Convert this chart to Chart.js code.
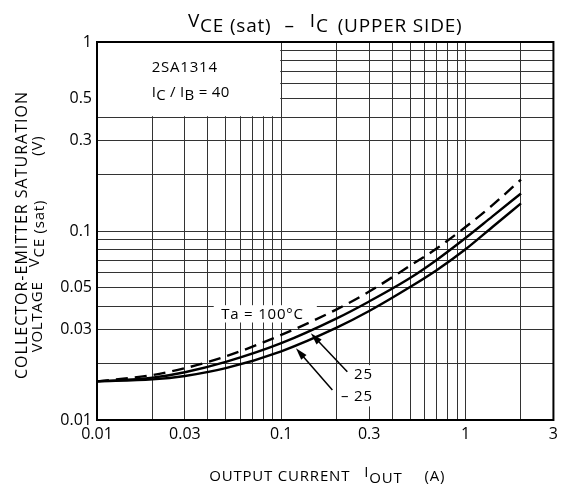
<!DOCTYPE html>
<html>
<head>
<meta charset="utf-8">
<script src="https://cdn.jsdelivr.net/npm/chart.js@4.4.1/dist/chart.umd.min.js"></script>
<style>
  html, body { margin: 0; padding: 0; background: #fff; }
  canvas { display: block; }
</style>
</head>
<body>
<canvas id="chart" width="563" height="486"></canvas>
<script>
// output current (A) and VCE(sat) (V)
const current = [0.01, 0.02, 0.03, 0.05, 0.1, 0.2, 0.3, 0.5, 0.7, 1.0, 1.4, 2.0];
const vce100 = [0.0160, 0.0173, 0.0188, 0.0217, 0.0282, 0.0385, 0.0478, 0.0655, 0.0810, 0.105, 0.137, 0.187];
const vce25 = [0.0160, 0.01675, 0.0179, 0.0203, 0.0255, 0.0345, 0.0424, 0.0564, 0.0705, 0.0918, 0.1195, 0.158];
const vceM25 = [0.0160, 0.0164, 0.0171, 0.0188, 0.0231, 0.0308, 0.0377, 0.0505, 0.0622, 0.0800, 0.1050, 0.140];

const xGrid = [0.01, 0.02, 0.03, 0.04, 0.05, 0.06, 0.07, 0.08, 0.09, 0.1, 0.2, 0.3, 0.4, 0.5, 0.6, 0.7, 0.8, 0.9, 1, 2, 3];
const yGrid = [0.01, 0.02, 0.03, 0.04, 0.05, 0.06, 0.07, 0.08, 0.09, 0.1, 0.2, 0.3, 0.4, 0.5, 0.6, 0.7, 0.8, 0.9, 1];
const xTickLabels = [0.01, 0.03, 0.1, 0.3, 1, 3];
const yTickLabels = [0.01, 0.03, 0.05, 0.1, 0.3, 0.5, 1];

const FONT = '"Open Sans", "Noto Sans", sans-serif';

function spacedWidth(ctx, t, ls) {
  let w = 0;
  for (const ch of t) w += ctx.measureText(ch).width + ls;
  return w;
}

// draws a run of text pieces (for subscripts) letter by letter; dy shifts a piece down
function drawParts(ctx, parts, x, y, size, align, ls = 0) {
  ctx.font = `${size}px ${FONT}`;
  ctx.textAlign = 'left';
  ctx.textBaseline = 'alphabetic';
  let total = 0;
  parts.forEach(p => { total += (p.gap || 0) + spacedWidth(ctx, p.t, ls); });
  let cx = align === 'center' ? x - total / 2 : (align === 'right' ? x - total : x);
  parts.forEach(p => {
    cx += p.gap || 0;
    for (const ch of p.t) {
      ctx.fillText(ch, cx, y + (p.dy || 0));
      cx += ctx.measureText(ch).width + ls;
    }
  });
}

function whiteBox(ctx, x0, y0, x1, y1) {
  ctx.fillStyle = '#fff';
  ctx.fillRect(x0, y0, x1 - x0, y1 - y0);
}

function arrow(ctx, x0, y0, x1, y1) {
  const ang = Math.atan2(y1 - y0, x1 - x0);
  const len = 12, half = 3.5;
  ctx.strokeStyle = '#000';
  ctx.lineWidth = 1.5;
  ctx.beginPath();
  ctx.moveTo(x0, y0);
  ctx.lineTo(x1 - Math.cos(ang) * len * 0.8, y1 - Math.sin(ang) * len * 0.8);
  ctx.stroke();
  ctx.fillStyle = '#000';
  ctx.beginPath();
  ctx.moveTo(x1, y1);
  ctx.lineTo(x1 - Math.cos(ang) * len + Math.sin(ang) * half, y1 - Math.sin(ang) * len - Math.cos(ang) * half);
  ctx.lineTo(x1 - Math.cos(ang) * len - Math.sin(ang) * half, y1 - Math.sin(ang) * len + Math.cos(ang) * half);
  ctx.closePath();
  ctx.fill();
}

const decor = {
  id: 'decor',
  beforeDatasetsDraw(chart) {
    const { ctx, scales: { x, y } } = chart;
    ctx.save();
    // blank panel holding the part number
    whiteBox(ctx, x.getPixelForValue(0.01) + 1, y.getPixelForValue(1) + 1,
      x.getPixelForValue(0.1) - 1, y.getPixelForValue(0.4) - 1);
    // gaps in the grid behind the curve labels
    whiteBox(ctx, x.getPixelForValue(0.043), y.getPixelForValue(0.0405),
      x.getPixelForValue(0.156), y.getPixelForValue(0.0328));
    whiteBox(ctx, x.getPixelForValue(0.205), y.getPixelForValue(0.0195),
      x.getPixelForValue(0.33), y.getPixelForValue(0.0118));
    ctx.restore();
  },
  afterDraw(chart) {
    const { ctx, chartArea: a, scales: { x, y } } = chart;
    ctx.save();
    ctx.fillStyle = '#000';

    // frame
    ctx.strokeStyle = '#000';
    ctx.lineWidth = 2;
    ctx.strokeRect(a.left, a.top, a.right - a.left, a.bottom - a.top);

    // title
    ctx.fillStyle = '#000';
    drawParts(ctx, [
      { t: 'V', dy: -5 }, { t: 'CE (sat)' }, { t: '–', gap: 13 }, { t: 'I', gap: 15, dy: -5 },
      { t: 'C' }, { t: '(UPPER SIDE)', gap: 9 }
    ], (a.left + a.right) / 2, 32, 19, 'center', 0.8);

    // panel text
    const px = x.getPixelForValue(0.0198);
    drawParts(ctx, [{ t: '2SA1314' }], px, y.getPixelForValue(0.74) + 5.5, 15, 'left', 0.8);
    drawParts(ctx, [
      { t: 'I', dy: -3 }, { t: 'C' }, { t: ' / ', dy: -3 }, { t: 'I', dy: -3 }, { t: 'B' }, { t: ' = 40', dy: -3 }
    ], px, y.getPixelForValue(0.546) + 8, 15, 'left', 0.3);

    // curve labels
    drawParts(ctx, [{ t: 'Ta = 100°C' }], x.getPixelForValue(0.0472), y.getPixelForValue(0.0367) + 5.5, 15, 'left', 0.8);
    drawParts(ctx, [{ t: '25' }], x.getPixelForValue(0.314), y.getPixelForValue(0.0177) + 5.5, 15, 'right', 0.8);
    drawParts(ctx, [{ t: '– 25' }], x.getPixelForValue(0.314), y.getPixelForValue(0.01356) + 5.5, 15, 'right', 0.8);

    arrow(ctx, x.getPixelForValue(0.2283), y.getPixelForValue(0.0180),
      x.getPixelForValue(0.1447), y.getPixelForValue(0.02875));
    arrow(ctx, x.getPixelForValue(0.1894), y.getPixelForValue(0.0144),
      x.getPixelForValue(0.1202), y.getPixelForValue(0.02395));

    // x axis title
    ctx.fillStyle = '#000';
    drawParts(ctx, [
      { t: 'OUTPUT CURRENT' }, { t: 'I', gap: 14, dy: -4 }, { t: 'OUT', dy: 2 }, { t: '(A)', gap: 22 }
    ], (a.left + a.right) / 2 + 2, 481, 15, 'center', 0.8);

    // y axis title, two rotated lines
    ctx.save();
    ctx.translate(27, 235);
    ctx.rotate(-Math.PI / 2);
    drawParts(ctx, [{ t: 'COLLECTOR-EMITTER SATURATION' }], 0, 0, 16, 'center', 1.0);
    ctx.restore();
    ctx.save();
    ctx.translate(42, 244);
    ctx.rotate(-Math.PI / 2);
    drawParts(ctx, [
      { t: 'VOLTAGE' }, { t: 'V', gap: 14, dy: -3 }, { t: 'CE (sat)', dy: 2 }, { t: '(V)', gap: 44 }
    ], 0, 0, 15, 'center', 0.8);
    ctx.restore();

    ctx.restore();
  }
};

const toPoints = vals => current.map((c, i) => ({ x: c, y: vals[i] }));

new Chart(document.getElementById('chart'), {
  type: 'line',
  data: {
    datasets: [
      { label: 'Ta = 100°C', data: toPoints(vce100), borderDash: [12, 7] },
      { label: '25', data: toPoints(vce25) },
      { label: '-25', data: toPoints(vceM25) }
    ].map(d => Object.assign({
      borderColor: '#000', borderWidth: 2.4, pointRadius: 0, cubicInterpolationMode: 'monotone', fill: false
    }, d))
  },
  options: {
    responsive: false,
    animation: false,
    events: [],
    layout: { padding: { top: 42, right: 8, left: 0, bottom: 0 } },
    plugins: { legend: { display: false }, tooltip: { enabled: false } },
    scales: {
      x: {
        type: 'logarithmic', min: 0.01, max: 3,
        afterBuildTicks: s => { s.ticks = xGrid.map(v => ({ value: v })); },
        afterFit: s => { s.height = 66; },
        grid: { color: '#333', lineWidth: 1, drawTicks: false },
        border: { display: false },
        ticks: {
          autoSkip: false, maxRotation: 0, padding: 5, color: '#000',
          font: { family: FONT, size: 16 },
          callback: v => xTickLabels.includes(v) ? String(v) : ''
        }
      },
      y: {
        type: 'logarithmic', min: 0.01, max: 1,
        afterBuildTicks: s => { s.ticks = yGrid.map(v => ({ value: v })); },
        afterFit: s => { s.width = 97; },
        grid: { color: '#333', lineWidth: 1, drawTicks: false },
        border: { display: false },
        ticks: {
          autoSkip: false, padding: 5, color: '#000',
          font: { family: FONT, size: 16 },
          callback: v => yTickLabels.includes(v) ? String(v) : ''
        }
      }
    }
  },
  plugins: [decor]
});
</script>
</body>
</html>
